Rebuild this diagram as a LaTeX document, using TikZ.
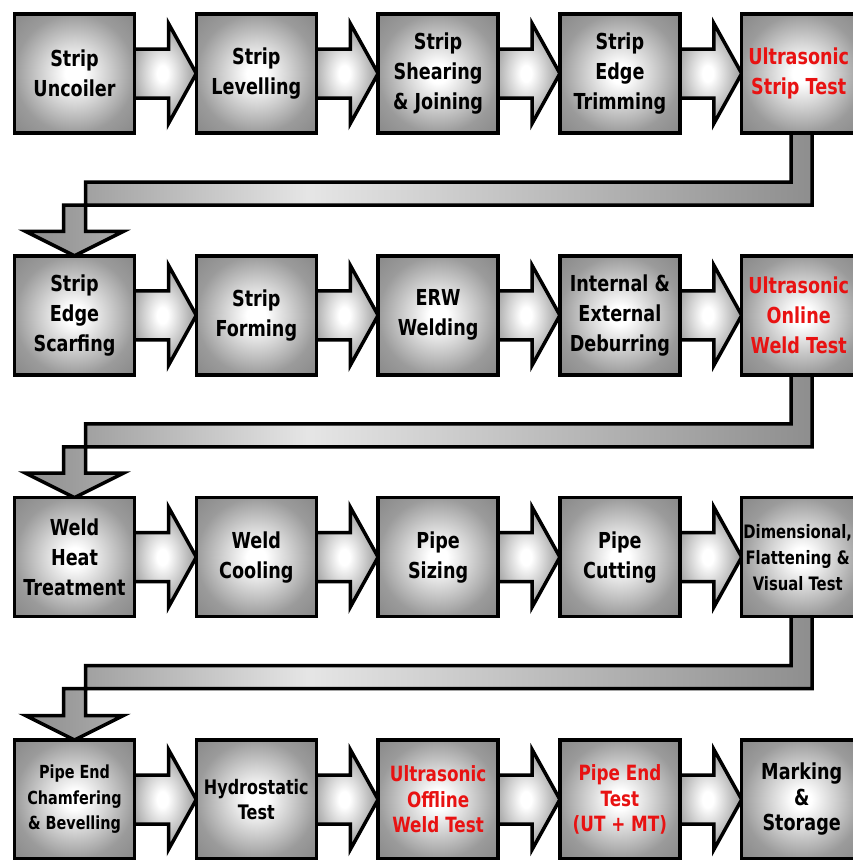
\documentclass[tikz,border=0pt]{standalone}
\usepackage{fontspec}
\newfontfamily\boxfont{DejaVu Sans}[FakeStretch=0.8]
\usetikzlibrary{calc}
\pgfdeclarelayer{background}
\pgfsetlayers{background,main}
\definecolor{glowmid}{RGB}{208,208,208}
\definecolor{boxedge}{RGB}{155,155,155}
\definecolor{boxcorner}{RGB}{136,136,136}
\definecolor{arrgray}{RGB}{142,142,142}
\definecolor{txtred}{RGB}{232,18,18}
\pgfdeclareradialshading{boxglow}{\pgfpoint{0bp}{0bp}}{color(0bp)=(white);color(4bp)=(white);color(14bp)=(glowmid);color(25bp)=(boxedge);color(36bp)=(boxcorner);color(50bp)=(boxcorner)}
\pgfdeclarehorizontalshading{retshade}{100bp}{color(0bp)=(arrgray);color(25bp)=(arrgray);color(43bp)=(white!90!black);color(75bp)=(arrgray);color(100bp)=(arrgray)}
\begin{document}
\begin{tikzpicture}[x=1pt,y=-1pt,
  box/.style={draw=black, line width=3.5pt, minimum width=120pt, minimum height=119pt,
    inner sep=0pt, outer sep=0pt, shade, shading=boxglow, align=center,
    font=\boxfont\bfseries\fontsize{22}{30}\selectfont},
  redtxt/.style={text=txtred},
  fsmall/.style={font=\boxfont\bfseries\fontsize{18.5}{26}\selectfont},
  frow/.style={font=\boxfont\bfseries\fontsize{#1}{25.5}\selectfont},
  harrow/.style={draw=black, line width=3.5pt, line join=miter, shade, shading=boxglow},
  rarrow/.style={draw=black, line width=3.5pt, line join=miter, shade, shading=retshade}]
\useasboundingbox (0,0) rectangle (853,860);
\clip (0,0) rectangle (853,860);
% row 1
\node[box] (b-1-1) at (74.5,73.5) {Strip\\Uncoiler};
\node[box] (b-1-2) at (256.3,73.5) {Strip\\Levelling};
\node[box] (b-1-3) at (438.1,73.5) {Strip\\Shearing\\\& Joining};
\node[box] (b-1-4) at (619.9,73.5) {Strip\\Edge\\Trimming};
\node[box,redtxt] (b-1-5) at (801.7,73.5) {\kern-6pt Ultrasonic\\\kern-6pt Strip Test};
% row 2
\node[box] (b-2-1) at (74.5,315.3) {Strip\\Edge\\Scarfing};
\node[box] (b-2-2) at (256.3,315.3) {Strip\\Forming};
\node[box] (b-2-3) at (438.1,315.3) {ERW\\Welding};
\node[box] (b-2-4) at (619.9,315.3) {Internal \&\\External\\Deburring};
\node[box,redtxt] (b-2-5) at (801.7,315.3) {\kern-6pt Ultrasonic\\\kern-6pt Online\\\kern-6pt Weld Test};
% row 3
\node[box] (b-3-1) at (74.5,557.1) {Weld\\Heat\\Treatment};
\node[box] (b-3-2) at (256.3,557.1) {Weld\\Cooling};
\node[box] (b-3-3) at (438.1,557.1) {Pipe\\Sizing};
\node[box] (b-3-4) at (619.9,557.1) {Pipe\\Cutting};
\node[box,fsmall] (b-3-5) at (801.7,557.1) {\kern-8pt Dimensional,\\\kern-8pt Flattening \&\\\kern-8pt Visual Test};
% row 4
\node[box,frow=18] (b-4-1) at (74.5,799.5) {Pipe End\\Chamfering\\\& Bevelling};
\node[box,frow=20] (b-4-2) at (256.3,799.5) {Hydrostatic\\Test};
\node[box,redtxt,frow=21] (b-4-3) at (438.1,799.5) {Ultrasonic\\Offline\\Weld Test};
\node[box,redtxt,frow=21] (b-4-4) at (619.9,799.5) {Pipe End\\Test\\(UT + MT)};
\node[box,frow=22] (b-4-5) at (801.7,799.5) {Marking\\\&\\Storage};
\begin{pgfonlayer}{background}
\fill[white] (0,0) rectangle (853,860);
\foreach \j in {1,...,4}{
  \foreach \i [evaluate=\i as \n using int(\i+1)] in {1,...,4}{
    \path[harrow] ($(b-\j-\i.east)+(-6,-24.5)$) -- ($(b-\j-\i.east)+(34,-24.5)$)
      -- ($(b-\j-\i.east)+(34,-50)$) -- (b-\j-\n.west)
      -- ($(b-\j-\i.east)+(34,50)$) -- ($(b-\j-\i.east)+(34,24.5)$)
      -- ($(b-\j-\i.east)+(-6,24.5)$) -- cycle;
  }
}
\foreach \j [evaluate=\j as \m using int(\j+1)] in {1,2,3}{
  \path[rarrow] ($(b-\j-5.south)+(10.5,-8)$) -- ($(b-\j-5.south)+(10.5,72)$)
    -- ($(b-\m-1.north |- b-\j-5.south)+(-11,72)$)
    -- ($(b-\m-1.north)+(-11,-24.5)$) -- ($(b-\m-1.north)+(-49,-24.5)$)
    -- (b-\m-1.north)
    -- ($(b-\m-1.north)+(49,-24.5)$) -- ($(b-\m-1.north)+(11,-24.5)$)
    -- ($(b-\m-1.north |- b-\j-5.south)+(11,49)$)
    -- ($(b-\j-5.south)+(-10.5,49)$) -- ($(b-\j-5.south)+(-10.5,-8)$) -- cycle;
}
\end{pgfonlayer}
\end{tikzpicture}
\end{document}
